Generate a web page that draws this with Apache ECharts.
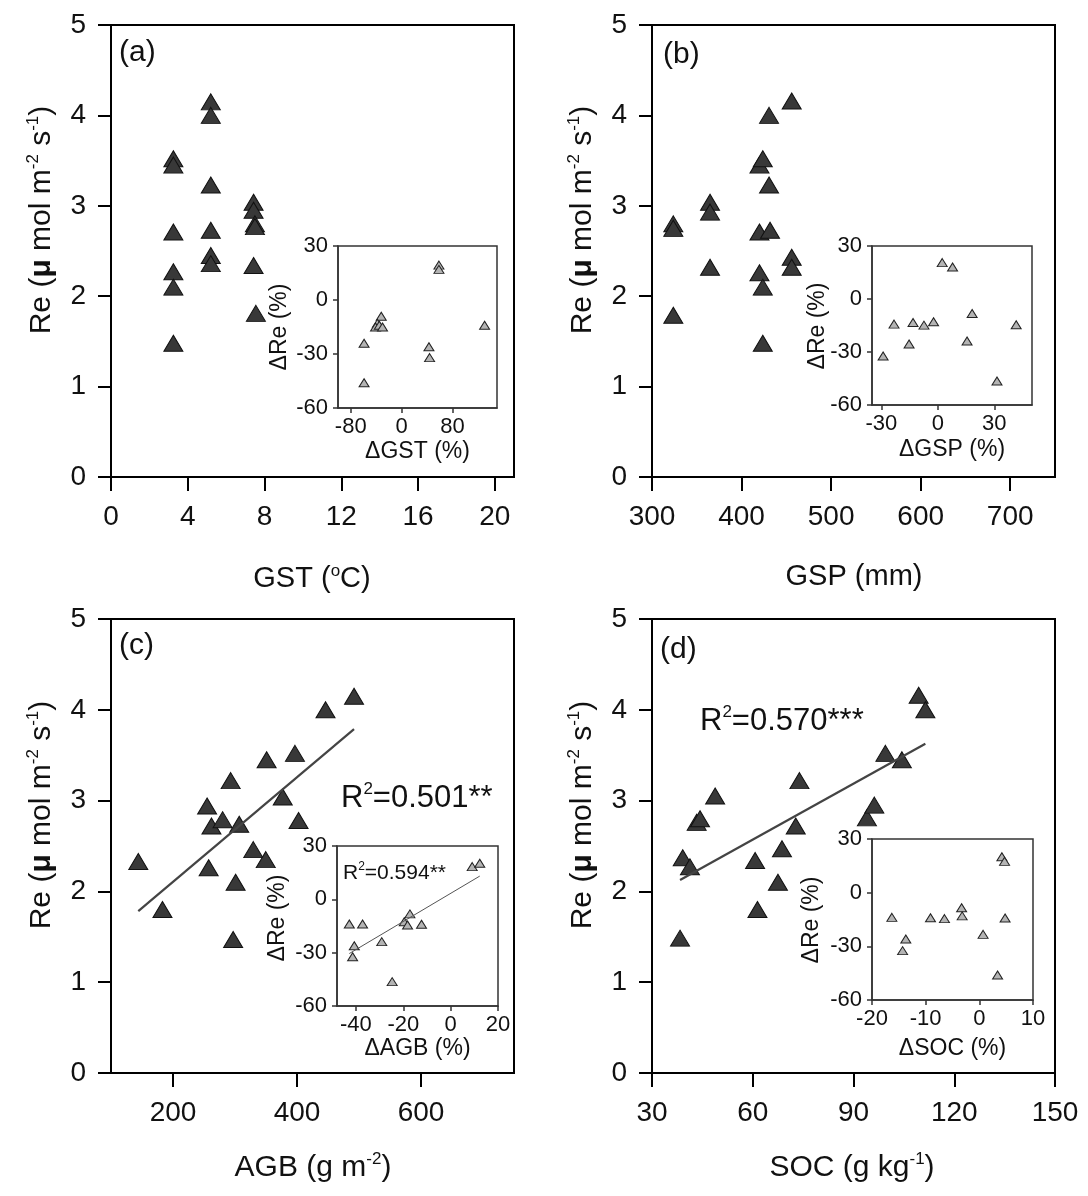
<!DOCTYPE html>
<html><head><meta charset="utf-8">
<script src="https://cdn.jsdelivr.net/npm/echarts@6/dist/echarts.min.js"></script>
<style>html,body{margin:0;padding:0;background:#fff}#c{width:1088px;height:1196px}</style>
</head><body><div id="c"></div>
<script>
// ---------- DATA ----------
// Main panels: [driver, Re]
const gstRe = [[3.25,3.52],[3.25,3.45],[3.25,2.71],[3.25,2.27],[3.25,2.10],[3.25,1.48],
  [5.2,4.15],[5.2,4.0],[5.2,3.23],[5.2,2.73],[5.2,2.45],[5.2,2.36],
  [7.43,3.04],[7.43,2.95],[7.5,2.80],[7.5,2.77],[7.43,2.34],[7.55,1.81]];
const gspRe = [[323.8,2.80],[323.8,2.75],[323.8,1.79],[364.8,3.04],[364.8,2.93],[364.8,2.32],
  [420,3.45],[423.7,3.52],[430.7,4.0],[430.7,3.23],[420,2.71],[431.8,2.73],[420,2.26],
  [423.7,2.10],[423.7,1.48],[456,4.16],[456,2.43],[456,2.32]];
const agbRe = [[144,2.33],[183,1.80],[255,2.94],[262,2.72],[280,2.79],[257.5,2.26],[293,3.22],
  [306.8,2.74],[301,2.10],[297,1.47],[329.5,2.46],[349.6,2.35],[351,3.45],[377,3.04],
  [396.7,3.52],[402.5,2.78],[446,4.0],[492,4.15]];
const socRe = [[38.35,1.485],[39.15,2.37],[41.3,2.27],[43.3,2.76],[44.3,2.80],[48.8,3.05],
  [60.7,2.34],[61.4,1.80],[67.5,2.10],[68.7,2.47],[72.8,2.72],[73.9,3.22],[94.0,2.81],
  [96.2,2.95],[99.5,3.52],[104.4,3.45],[109.4,4.16],[111.4,4.0]];
// Insets: [Δdriver %, ΔRe %]
const dGstRe = [[-59,-24],[-59,-46],[-32,-9],[-38,-13],[-41,-15],[-35,-14],[-30,-15],
  [43,-26],[44,-32],[58.7,19.4],[58.7,17],[130.5,-14]];
const dGspRe = [[-29.1,-32.3],[-23.3,-14.2],[-15.3,-25.5],[-13.2,-13.3],[-7.4,-14.8],[-2.3,-12.9],
  [2.3,20.6],[7.8,18.1],[15.5,-23.8],[18.2,-8.2],[31.4,-46.4],[41.6,-14.6]];
const dAgbRe = [[-42.8,-13.9],[-37.2,-13.9],[-40.7,-26.1],[-41.4,-32.3],[-29.1,-23.8],[-24.7,-46.3],
  [-19.6,-12.6],[-18.2,-14.4],[-17.2,-8.2],[-12.3,-14.0],[9.1,18.4],[12.3,20.3]];
const dSocRe = [[-16.3,-13.8],[-13.7,-25.9],[-14.3,-32.4],[-9.1,-14.0],[-6.5,-14.5],[-3.3,-8.4],
  [-3.2,-13.0],[0.7,-23.3],[3.4,-46.0],[4.2,20.1],[4.7,17.5],[4.8,-14.2]];
// Tick labels
const reTicks = [0,1,2,3,4,5];
const gstTicks = [0,4,8,12,16,20];
const gspTicks = [300,400,500,600,700];
const agbTicks = [200,400,600];
const socTicks = [30,60,90,120,150];
const dReTicks = [-60,-30,0,30];
const dGstTicks = [-80,0,80];
const dGspTicks = [-30,0,30];
const dAgbTicks = [-40,-20,0,20];
const dSocTicks = [-20,-10,0,10];
const r2Main = {c:'0.501**', d:'0.570***'};
const r2Inset = {c:'0.594**'};

// ---------- HELPERS ----------
const F = "'Liberation Sans', Arial, sans-serif";
const FN = "'Liberation Sans Narrow', 'Arial Narrow', 'Liberation Sans', Arial, sans-serif";

function fit(pts){
  const n = pts.length; let sx=0, sy=0;
  pts.forEach(p=>{sx+=p[0]; sy+=p[1];});
  const mx=sx/n, my=sy/n; let sxy=0, sxx=0;
  pts.forEach(p=>{sxy+=(p[0]-mx)*(p[1]-my); sxx+=(p[0]-mx)*(p[0]-mx);});
  const b=sxy/sxx, a=my-b*mx;
  const xs=pts.map(p=>p[0]); const x0=Math.min(...xs), x1=Math.max(...xs);
  return [[x0,a+b*x0],[x1,a+b*x1]];
}

const grids = [
  {left:111, top:25, width:403, height:452},
  {left:652, top:25, width:403, height:452},
  {left:111, top:619, width:403, height:454},
  {left:652, top:619, width:403, height:454},
  {left:338, top:246, width:159, height:162},
  {left:872, top:246, width:160, height:159},
  {left:337, top:846, width:161, height:160},
  {left:872, top:839, width:161, height:161}
].map(g=>Object.assign({show:true, borderColor:'#000', borderWidth:2, backgroundColor:'transparent', containLabel:false}, g));
grids.slice(4).forEach(g=>{g.borderColor='#333'; g.borderWidth=1.5;});

function mainX(gi, min, max, ticks, font){
  return {gridIndex:gi, type:'value', min, max, splitLine:{show:false},
    axisLine:{show:true, onZero:false, lineStyle:{color:'#000', width:2}},
    axisTick:{show:true, inside:false, length:14, lineStyle:{color:'#000', width:2}, customValues:ticks},
    axisLabel:{show:true, margin:26, fontSize:28, fontFamily:font||F, color:'#111', customValues:ticks}};
}
function mainY(gi){
  return {gridIndex:gi, type:'value', min:0, max:5, interval:1, splitLine:{show:false},
    axisLine:{show:true, onZero:false, lineStyle:{color:'#000', width:2}},
    axisTick:{show:true, inside:false, length:13, lineStyle:{color:'#000', width:2}},
    axisLabel:{show:true, margin:25, fontSize:28, fontFamily:F, color:'#111'}};
}
function insetX(gi, min, max, ticks){
  return {gridIndex:gi, type:'value', min, max, splitLine:{show:false},
    axisLine:{show:true, onZero:false, lineStyle:{color:'#333', width:1.5}},
    axisTick:{show:true, inside:false, length:5, lineStyle:{color:'#333', width:1.5}, customValues:ticks},
    axisLabel:{show:true, margin:8, fontSize:22, fontFamily:F, color:'#111', customValues:ticks}};
}
function insetY(gi){
  return {gridIndex:gi, type:'value', min:-60, max:30, interval:30, splitLine:{show:false},
    axisLine:{show:true, onZero:false, lineStyle:{color:'#333', width:1.5}},
    axisTick:{show:true, inside:false, length:5, lineStyle:{color:'#333', width:1.5}},
    axisLabel:{show:true, margin:10, fontSize:22, fontFamily:F, color:'#111'}};
}

const xAxes = [
  mainX(0, 0, 21, gstTicks), mainX(1, 300, 750, gspTicks),
  mainX(2, 100, 750, agbTicks, FN), mainX(3, 30, 150, socTicks, FN),
  insetX(4, -100, 150, dGstTicks), insetX(5, -35, 50, dGspTicks),
  insetX(6, -48, 20, dAgbTicks), insetX(7, -20, 10, dSocTicks)
];
const yAxes = [mainY(0), mainY(1), mainY(2), mainY(3), insetY(4), insetY(5), insetY(6), insetY(7)];

function mainScatter(i, data){
  return {type:'scatter', xAxisIndex:i, yAxisIndex:i, data, symbol:'triangle', symbolSize:[19,16],
    itemStyle:{color:'#383838', borderColor:'#111', borderWidth:1, opacity:1}, z:3, silent:true};
}
function insetScatter(i, data){
  return {type:'scatter', xAxisIndex:i, yAxisIndex:i, data, symbol:'triangle', symbolSize:[10,8],
    itemStyle:{color:'#b4b4b4', borderColor:'#222', borderWidth:1, opacity:1}, z:3, silent:true};
}
function fitLine(i, data, w, c){
  return {type:'line', xAxisIndex:i, yAxisIndex:i, data:fit(data), symbol:'none', showSymbol:false,
    lineStyle:{color:c, width:w}, z:4, silent:true};
}

const series = [
  mainScatter(0, gstRe), mainScatter(1, gspRe), mainScatter(2, agbRe), mainScatter(3, socRe),
  fitLine(2, agbRe, 2.2, '#444'), fitLine(3, socRe, 2.2, '#444'),
  insetScatter(4, dGstRe), insetScatter(5, dGspRe), insetScatter(6, dAgbRe), insetScatter(7, dSocRe),
  fitLine(6, dAgbRe, 1, '#555')
];

// ---------- TEXT ----------
function rich(size, sup, font){
  font = font || F;
  return {
    n:{fontSize:size, fontFamily:font, color:'#111', lineHeight:size+4},
    b:{fontSize:size, fontFamily:font, fontWeight:'bold', color:'#111', lineHeight:size+4},
    s:{fontSize:sup, fontFamily:font, color:'#111', verticalAlign:'top', lineHeight:sup}
  };
}
function T(x, y, text, opt){
  opt = opt || {};
  return {type:'text', x, y, rotation: opt.rot ? Math.PI/2 : 0, z:100, silent:true,
    style:{text, rich: opt.rich, align: opt.align||'center', verticalAlign:'middle',
      fontSize: opt.size||28, fontFamily: opt.font||F, fill:'#111'}};
}
const yName = '{n|Re (}{b|\u03bc}{n| mol m}{s|-2}{n| s}{s|-1}{n|)}';
const dReName = '\u0394Re (%)';
const graphic = [
  T(42, 220, yName, {rot:true, rich:rich(30,17)}),
  T(583, 220, yName, {rot:true, rich:rich(30,17)}),
  T(42, 815, yName, {rot:true, rich:rich(30,17)}),
  T(583, 815, yName, {rot:true, rich:rich(30,17)}),
  T(312, 579, '{n|GST (}{s|o}{n|C)}', {rich:rich(29,17)}),
  T(854, 577, '{n|GSP (mm)}', {rich:rich(29,17)}),
  T(313, 1168, '{n|AGB (g m}{s|-2}{n|)}', {rich:rich(30,17,FN)}),
  T(852, 1168, '{n|SOC (g kg}{s|-1}{n|)}', {rich:rich(30,17,FN)}),
  T(119, 53, '(a)', {align:'left', size:30}),
  T(663, 55, '(b)', {align:'left', size:30}),
  T(119, 646, '(c)', {align:'left', size:30}),
  T(660, 650, '(d)', {align:'left', size:30}),
  T(341, 798, '{n|R}{s|2}{n|=' + r2Main.c + '}', {align:'left', rich:rich(31,17)}),
  T(700, 721, '{n|R}{s|2}{n|=' + r2Main.d + '}', {align:'left', rich:rich(31,17)}),
  T(343, 873, '{n|R}{s|2}{n|=' + r2Inset.c + '}', {align:'left', rich:rich(21,12)}),
  T(280, 327, dReName, {rot:true, size:23}),
  T(818, 326, dReName, {rot:true, size:23}),
  T(278, 918, dReName, {rot:true, size:23}),
  T(812, 920, dReName, {rot:true, size:23}),
  T(417.5, 452, '\u0394GST (%)', {size:23}),
  T(952, 450, '\u0394GSP (%)', {size:23}),
  T(417.5, 1049, '\u0394AGB (%)', {size:23}),
  T(952.5, 1049, '\u0394SOC (%)', {size:23})
];

const chart = echarts.init(document.getElementById('c'), null, {renderer:'canvas'});
chart.setOption({animation:false, backgroundColor:'#fff', grid:grids, xAxis:xAxes, yAxis:yAxes, series, graphic});
</script></body></html>
